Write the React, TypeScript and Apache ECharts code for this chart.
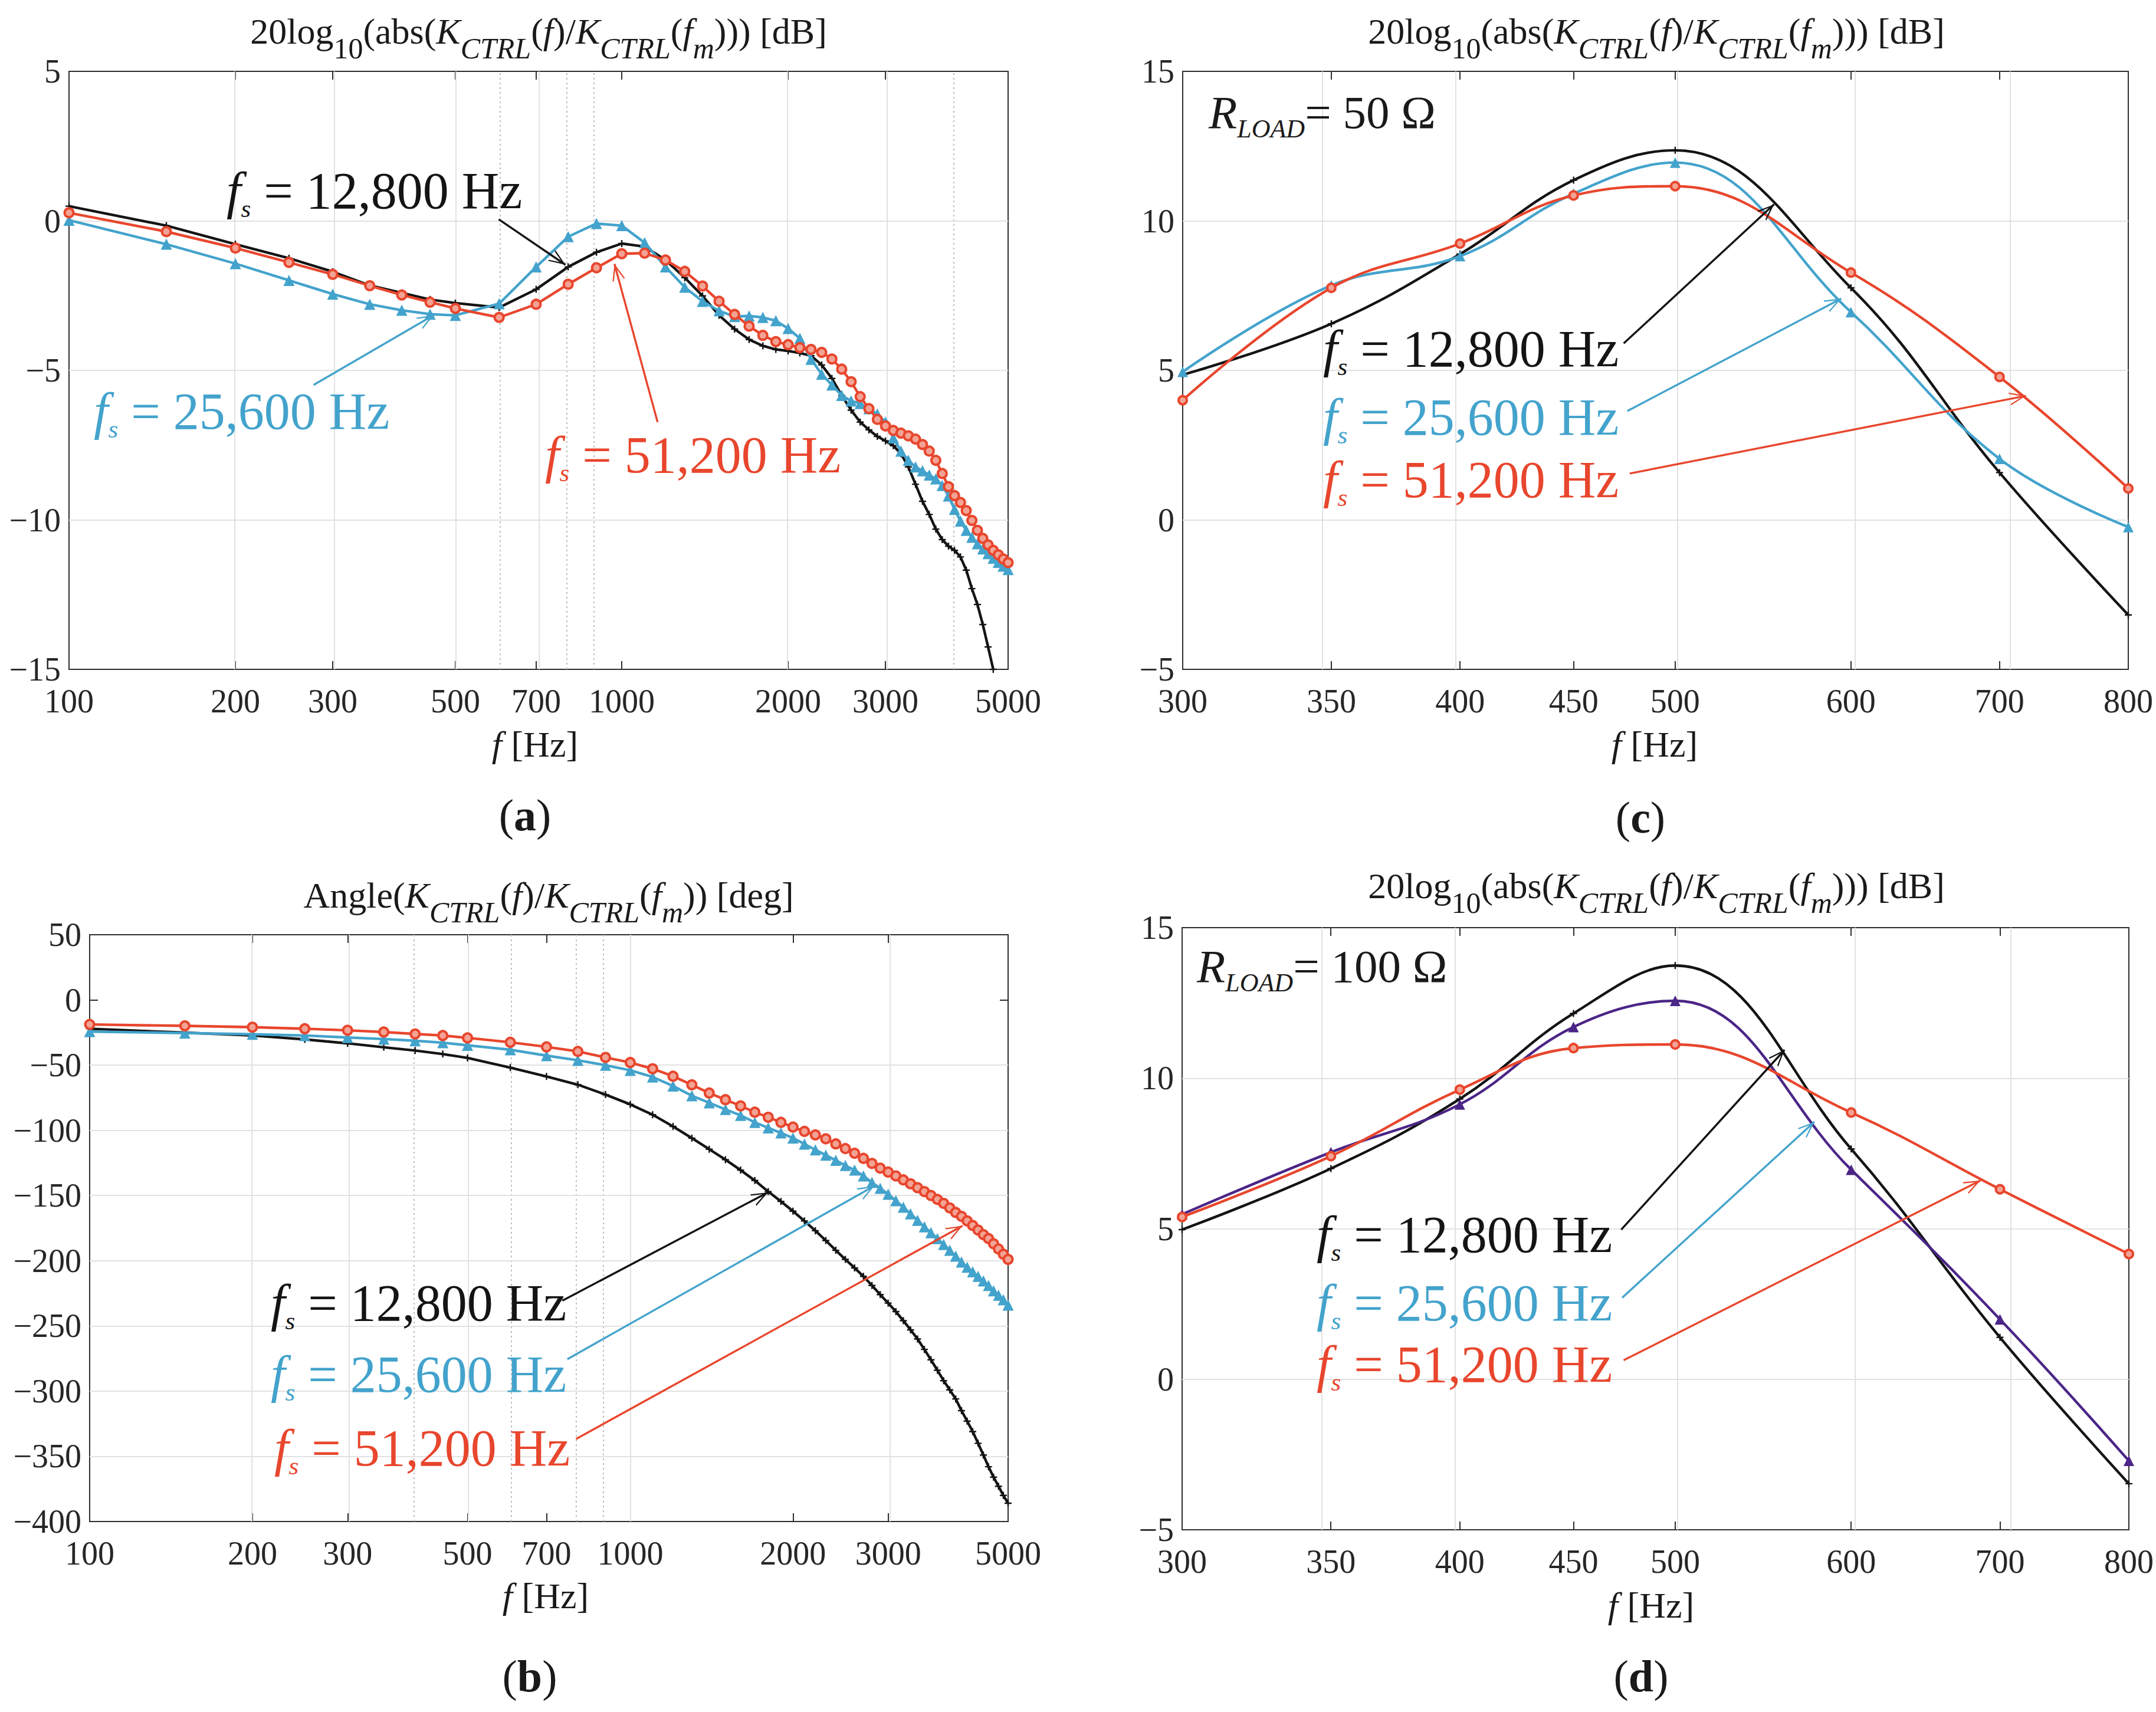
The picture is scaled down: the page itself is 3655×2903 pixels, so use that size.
import React, { useEffect, useRef } from "react";
import * as echarts from "echarts";

const FONT = "Liberation Serif";
const C_BLACK = "#141414";
const C_BLUE = "#43A3CC";
const C_RED = "#E8462D";
const C_RED_FILL = "#F3A394";
const C_PURPLE = "#4B2587";
const C_TEXT = "#1a1a1a";
const C_AXIS = "#2e2e2e";
const C_TICKLBL = "#262626";

// ---------- Panels (a) and (b): frequency points [Hz]
const freqAB = [
  100, 150, 200, 250, 300, 350, 400, 450, 500, 600, 700, 800, 900, 1000, 1100, 1200, 1300, 1400,
  1500, 1600, 1700, 1800, 1900, 2000, 2100, 2200, 2300, 2400, 2500, 2600, 2700, 2800, 2900, 3000,
  3100, 3200, 3300, 3400, 3500, 3600, 3700, 3800, 3900, 4000, 4100, 4200, 4300, 4400, 4500, 4600,
  4700, 4800, 4900, 5000,
];

// (a) magnitude [dB]
const magA_12800 = [
  0.49, -0.16, -0.78, -1.25, -1.7, -2.16, -2.41, -2.63, -2.75, -2.9, -2.29, -1.54, -1.05, -0.76,
  -0.86, -1.31, -1.9, -2.51, -3.16, -3.62, -3.97, -4.18, -4.3, -4.35, -4.42, -4.51, -4.82, -5.27,
  -5.84, -6.33, -6.73, -6.99, -7.21, -7.36, -7.52, -7.79, -8.23, -8.81, -9.38, -9.82, -10.31,
  -10.66, -10.88, -11.02, -11.24, -11.68, -12.3, -12.83, -13.5, -14.25, -15.0,
];
const magA_25600 = [
  0.02, -0.78, -1.43, -1.99, -2.45, -2.79, -2.99, -3.12, -3.16, -2.77, -1.54, -0.53, -0.09, -0.16,
  -0.73, -1.54, -2.22, -2.69, -3.01, -3.2, -3.18, -3.23, -3.34, -3.6, -3.93, -4.63, -5.13, -5.49,
  -5.84, -6.02, -6.11, -6.28, -6.46, -6.73, -7.26, -7.7, -8.01, -8.23, -8.36, -8.5, -8.63, -8.85,
  -9.2, -9.65, -10.04, -10.35, -10.58, -10.8, -10.97, -11.13, -11.28, -11.42, -11.55, -11.66,
];
const magA_51200 = [
  0.27, -0.36, -0.91, -1.39, -1.79, -2.17, -2.48, -2.72, -2.93, -3.23, -2.79, -2.12, -1.57, -1.1,
  -1.08, -1.31, -1.69, -2.18, -2.69, -3.13, -3.52, -3.83, -4.04, -4.14, -4.24, -4.3, -4.4, -4.62,
  -4.96, -5.38, -5.88, -6.28, -6.64, -6.86, -7.01, -7.1, -7.19, -7.3, -7.48, -7.7, -8.01, -8.45,
  -8.89, -9.19, -9.42, -9.69, -10.02, -10.35, -10.62, -10.84, -11.02, -11.17, -11.31, -11.43,
];

// (b) angle [deg]
const angB_12800 = [
  -22.1, -25.1, -27.3, -30.3, -33.3, -36.3, -38.8, -41.5, -44.5, -51.9, -58.7, -65.0, -72.6, -80.1,
  -88.0, -97.0, -106.0, -114.5, -122.5, -130.5, -138.5, -147.0, -154.5, -162.0, -169.5, -177.0,
  -184.5, -192.0, -199.0, -205.5, -212.0, -219.0, -226.0, -232.5, -239.0, -246.0, -253.0, -260.0,
  -268.0, -276.0, -284.0, -292.0, -299.0, -306.0, -315.0, -323.0, -331.0, -340.0, -349.0, -358.0,
  -366.0, -373.0, -380.0, -386.0,
];
const angB_25600 = [
  -24.3, -25.4, -26.3, -27.3, -28.8, -30.0, -31.3, -32.8, -34.8, -38.2, -42.7, -46.3, -50.1, -54.0,
  -59.1, -66.0, -73.5, -78.9, -84.0, -88.5, -93.9, -98.1, -102.0, -105.9, -110.5, -115.0, -119.0,
  -123.0, -127.0, -130.5, -135.0, -140.0, -144.5, -149.0, -154.0, -159.0, -164.0, -169.0, -174.0,
  -178.5, -183.0, -187.5, -192.0, -196.5, -201.0, -205.0, -208.5, -212.0, -215.5, -219.0, -223.0,
  -226.5, -230.0, -234.0,
];
const angB_51200 = [
  -18.8, -19.9, -20.9, -22.1, -23.3, -24.6, -26.1, -27.3, -29.1, -32.5, -36.0, -39.5, -44.1, -48.0,
  -52.8, -58.5, -65.1, -71.4, -76.5, -81.3, -86.1, -90.0, -93.9, -97.5, -100.8, -103.5, -106.5,
  -110.4, -114.0, -117.6, -121.5, -125.4, -129.0, -132.0, -135.0, -138.0, -141.0, -144.0, -147.0,
  -150.0, -153.0, -156.0, -159.5, -163.0, -166.0, -169.5, -173.0, -176.5, -180.0, -183.0, -187.0,
  -191.0, -195.0, -199.0,
];

// ---------- Panels (c) and (d)
const freqCD = [300, 350, 400, 450, 500, 600, 700, 800];
const magC_12800 = [4.85, 6.56, 8.89, 11.36, 12.36, 7.76, 1.58, -3.18];
const magC_25600 = [4.95, 7.84, 8.82, 10.91, 11.95, 6.95, 2.04, -0.24];
const magC_51200 = [4.0, 7.76, 9.24, 10.85, 11.16, 8.27, 4.78, 1.05];
const magD_12800 = [4.97, 7.0, 9.31, 12.15, 13.74, 7.65, 1.39, -3.47];
const magD_25600 = [5.48, 7.54, 9.13, 11.7, 12.57, 6.96, 1.99, -2.71];
const magD_51200 = [5.39, 7.41, 9.62, 11.0, 11.12, 8.86, 6.31, 4.16];

// ---------- Tick labels / grid lines
const ticksAB = [100, 200, 300, 500, 700, 1000, 2000, 3000, 5000];
const ticksCD = [300, 350, 400, 450, 500, 600, 700, 800];
const vSolidA = [200, 300, 500, 700, 2000, 3000];
const vDotA = [600, 800, 900, 4000];
const vSolidB = [200, 300, 500, 1000, 3000];
const vDotB = [400, 600, 800, 900];
const vSolidCD = [350, 400, 500, 600, 700];
const hLinesA = [0, -5, -10];
const hLinesB = [-50, -100, -150, -200, -250, -300, -350];
const hLinesCD = [0, 5, 10];

// ---------- Annotation arrows (data coordinates: [Hz, value])
const arrowsA = [
  { from: [599, 0.05], to: [791, -1.47], color: C_BLACK },
  { from: [277, -5.49], to: [457, -3.15], color: C_BLUE },
  { from: [1161, -6.73], to: [970, -1.44], color: C_RED },
];
const arrowsB = [
  { from: [749, -230.6], to: [1798, -147.6], color: C_BLACK },
  { from: [765, -275.5], to: [2829, -142.6], color: C_BLUE },
  { from: [794, -336.7], to: [4119, -173.2], color: C_RED },
];
const arrowsC = [
  { from: [474, 5.9], to: [554, 10.55], color: C_BLACK },
  { from: [475.8, 3.64], to: [594, 7.4], color: C_BLUE },
  { from: [477, 1.55], to: [719.5, 4.15], color: C_RED },
];
const arrowsD = [
  { from: [472.8, 4.97], to: [560, 10.94], color: C_BLACK },
  { from: [473.3, 2.71], to: [577.6, 8.55], color: C_BLUE },
  { from: [474, 0.63], to: [686, 6.6], color: C_RED },
];

const ARROW =
  "path://M11,-30.2 L11.2,-30 L10.8,-30 Z M11,0 L22,30 L19.6,30 L11,6.5 L2.4,30 L0,30 Z";
const PLUS = "path://M4,0 H6 V4 H10 V6 H6 V10 H4 V6 H0 V4 H4 Z";

const lg = (v: number) => Math.log10(v);
const minus = (v: number) => (v < 0 ? "\u2212" + Math.abs(v) : String(v));

function richSet(F: number, S: number, P: number, color: string) {
  const base: any = { fontFamily: FONT, color, verticalAlign: "top", fontWeight: "normal" };
  return {
    n: { ...base, fontSize: F, lineHeight: F, fontStyle: "normal" },
    i: { ...base, fontSize: F, lineHeight: F, fontStyle: "italic" },
    b: { ...base, fontSize: F, lineHeight: F, fontStyle: "normal", fontWeight: "bold" },
    s: { ...base, fontSize: S, lineHeight: S, padding: [P, 0, 0, 0], fontStyle: "normal" },
    si: { ...base, fontSize: S, lineHeight: S, padding: [P, 0, 0, 0], fontStyle: "italic" },
  };
}

const TITLE_DB =
  "{n|20log}{s|10}{n|(abs(}{i|K}{si|CTRL}{n|(}{i|f}{n|)/}{i|K}{si|CTRL}{n|(}{i|f}{si|m}{n|))) [dB]}";
const TITLE_DEG =
  "{n|Angle(}{i|K}{si|CTRL}{n|(}{i|f}{n|)/}{i|K}{si|CTRL}{n|(}{i|f}{si|m}{n|)) [deg]}";
const fsText = (v: string) => `{i|f}{si|s}{n| = ${v} Hz}`;

function txt(text: string, left: number, top: number, align: string, rich: any) {
  return {
    text,
    left,
    top,
    textAlign: align,
    padding: 0,
    textStyle: { fontFamily: FONT, fontWeight: "normal", rich },
  };
}

function buildOption() {
  const panels = [
    {
      grid: { left: 117, top: 121, width: 1592, height: 1014 },
      xr: [100, 5000], ticks: ticksAB, yr: [-15, 5], yi: 5,
      vS: vSolidA, vD: vDotA, h: hLinesA, smooth: false, arrows: arrowsA,
      lines: [
        { f: freqAB, v: magA_12800, c: C_BLACK, kind: "plus" },
        { f: freqAB, v: magA_25600, c: C_BLUE, kind: "tri" },
        { f: freqAB, v: magA_51200, c: C_RED, kind: "circ" },
      ],
    },
    {
      grid: { left: 152, top: 1585, width: 1557, height: 995 },
      xr: [100, 5000], ticks: ticksAB, yr: [-400, 50], yi: 50,
      vS: vSolidB, vD: vDotB, h: hLinesB, smooth: false, arrows: arrowsB,
      lines: [
        { f: freqAB, v: angB_12800, c: C_BLACK, kind: "plus" },
        { f: freqAB, v: angB_25600, c: C_BLUE, kind: "tri" },
        { f: freqAB, v: angB_51200, c: C_RED, kind: "circ" },
      ],
    },
    {
      grid: { left: 2005, top: 121, width: 1603, height: 1014 },
      xr: [300, 800], ticks: ticksCD, yr: [-5, 15], yi: 5,
      vS: vSolidCD, vD: [], h: hLinesCD, smooth: 0.4, arrows: arrowsC,
      lines: [
        { f: freqCD, v: magC_12800, c: C_BLACK, kind: "plus" },
        { f: freqCD, v: magC_25600, c: C_BLUE, kind: "tri" },
        { f: freqCD, v: magC_51200, c: C_RED, kind: "circ" },
      ],
    },
    {
      grid: { left: 2004, top: 1573, width: 1605, height: 1021 },
      xr: [300, 800], ticks: ticksCD, yr: [-5, 15], yi: 5,
      vS: vSolidCD, vD: [], h: hLinesCD, smooth: 0.4, arrows: arrowsD,
      lines: [
        { f: freqCD, v: magD_12800, c: C_BLACK, kind: "plus" },
        { f: freqCD, v: magD_25600, c: C_PURPLE, kind: "tri" },
        { f: freqCD, v: magD_51200, c: C_RED, kind: "circ" },
      ],
    },
  ];

  const grid: any[] = [];
  const xAxis: any[] = [];
  const yAxis: any[] = [];
  const series: any[] = [];

  panels.forEach((p, i) => {
    grid.push({
      ...p.grid,
      show: true,
      borderColor: C_AXIS,
      borderWidth: 2,
      backgroundColor: "transparent",
    });
    const tickVals = p.ticks.map(lg);
    const tickStyle = { show: true, inside: true, length: 14, lineStyle: { color: C_AXIS, width: 2 } };
    const xBase = {
      type: "value",
      gridIndex: i,
      min: lg(p.xr[0]),
      max: lg(p.xr[1]),
      axisLine: { show: false, onZero: false },
      splitLine: { show: false },
      axisTick: { ...tickStyle, customValues: tickVals },
    };
    xAxis.push({
      ...xBase,
      position: "bottom",
      axisLabel: {
        show: true,
        customValues: tickVals,
        formatter: (v: number) => String(Math.round(Math.pow(10, v))),
        fontFamily: FONT,
        fontSize: 56,
        color: C_TICKLBL,
        margin: 26,
      },
    });
    xAxis.push({ ...xBase, position: "top", axisLabel: { show: false } });
    const yBase = {
      type: "value",
      gridIndex: i,
      min: p.yr[0],
      max: p.yr[1],
      interval: p.yi,
      axisLine: { show: false, onZero: false },
      splitLine: { show: false },
      axisTick: tickStyle,
    };
    yAxis.push({
      ...yBase,
      position: "left",
      axisLabel: { show: true, formatter: minus, fontFamily: FONT, fontSize: 56, color: C_TICKLBL, margin: 14 },
    });
    yAxis.push({ ...yBase, position: "right", axisLabel: { show: false } });

    const xi = 2 * i;
    const yi = 2 * i;
    const solid = { color: "#e2e2e2", width: 2, type: "solid" };
    const dotted = { color: "#bcbcbc", width: 2, type: [3, 5] };
    series.push({
      type: "line",
      xAxisIndex: xi,
      yAxisIndex: yi,
      data: [],
      silent: true,
      markLine: {
        silent: true,
        z: 1,
        symbol: ["none", "none"],
        label: { show: false },
        emphasis: { disabled: true },
        data: [
          ...p.vS.map((v) => ({ xAxis: lg(v), lineStyle: solid })),
          ...p.vD.map((v) => ({ xAxis: lg(v), lineStyle: dotted })),
          ...p.h.map((v) => ({ yAxis: v, lineStyle: solid })),
        ],
      },
    });

    p.lines.forEach((ln, k) => {
      const data = ln.v.map((val, j) => [lg(ln.f[j]), val]);
      const sym =
        ln.kind === "plus"
          ? { symbol: PLUS, symbolSize: 12, itemStyle: { color: ln.c } }
          : ln.kind === "tri"
          ? { symbol: "triangle", symbolSize: i < 2 ? 19 : 18, itemStyle: { color: ln.c } }
          : {
              symbol: "circle",
              symbolSize: i < 2 ? 15 : 14,
              itemStyle: { color: C_RED_FILL, borderColor: ln.c, borderWidth: 4 },
            };
      const ar = p.arrows[k];
      series.push({
        type: "line",
        xAxisIndex: xi,
        yAxisIndex: yi,
        data,
        smooth: p.smooth,
        showSymbol: true,
        showAllSymbol: true,
        lineStyle: { color: ln.c, width: 4.4 },
        ...sym,
        z: 3 + k,
        markLine: {
          silent: true,
          z: 8,
          symbol: ["none", ARROW],
          symbolSize: [22, 56],
          label: { show: false },
          emphasis: { disabled: true },
          lineStyle: { color: ar.color, width: 3.4, type: "solid" },
          itemStyle: { color: ar.color },
          data: [
            [
              { coord: [lg(ar.from[0]), ar.from[1]] },
              { coord: [lg(ar.to[0]), ar.to[1]] },
            ],
          ],
        },
      });
    });
  });

  const rT = richSet(62, 50, 35, C_TEXT);
  const annK = richSet(88, 43, 53, C_BLACK);
  const annB = richSet(88, 43, 53, C_BLUE);
  const annR = richSet(88, 43, 53, C_RED);
  const rL = richSet(79, 44, 45, C_TEXT);
  const rAx = richSet(62, 40, 0, C_TEXT);
  const rP = richSet(76, 40, 0, C_TEXT);

  const title = [
    txt(TITLE_DB, 913, 22, "center", rT),
    txt(TITLE_DEG, 930, 1487, "center", rT),
    txt(TITLE_DB, 2808, 22, "center", rT),
    txt(TITLE_DB, 2808, 1471, "center", rT),
    txt("{i|f}{n| [Hz]}", 907, 1231, "center", rAx),
    txt("{i|f}{n| [Hz]}", 925, 2675, "center", rAx),
    txt("{i|f}{n| [Hz]}", 2805, 1231, "center", rAx),
    txt("{i|f}{n| [Hz]}", 2799, 2691, "center", rAx),
    txt("{n|(}{b|a}{n|)}", 890, 1344, "center", rP),
    txt("{n|(}{b|b}{n|)}", 898, 2804, "center", rP),
    txt("{n|(}{b|c}{n|)}", 2781, 1348, "center", rP),
    txt("{n|(}{b|d}{n|)}", 2782, 2804, "center", rP),
    txt("{i|R}{si|LOAD}{n|= 50 \u03A9}", 2049, 151, "left", rL),
    txt("{i|R}{si|LOAD}{n|= 100 \u03A9}", 2029, 1599, "left", rL),
    txt(fsText("12,800"), 384, 279, "left", annK),
    txt(fsText("25,600"), 159, 653, "left", annB),
    txt(fsText("51,200"), 924, 727, "left", annR),
    txt(fsText("12,800"), 459, 2165, "left", annK),
    txt(fsText("25,600"), 459, 2286, "left", annB),
    txt(fsText("51,200"), 465, 2411, "left", annR),
    txt(fsText("12,800"), 2243, 547, "left", annK),
    txt(fsText("25,600"), 2243, 663, "left", annB),
    txt(fsText("51,200"), 2243, 769, "left", annR),
    txt(fsText("12,800"), 2232, 2049, "left", annK),
    txt(fsText("25,600"), 2232, 2165, "left", annB),
    txt(fsText("51,200"), 2232, 2269, "left", annR),
  ];

  return {
    animation: false,
    backgroundColor: "#ffffff",
    title,
    grid,
    xAxis,
    yAxis,
    series,
  };
}

export default function App() {
  const ref = useRef<HTMLDivElement>(null);
  useEffect(() => {
    document.body.style.margin = "0";
    const chart = echarts.init(ref.current as HTMLDivElement, null, {
      renderer: "svg",
      width: 3655,
      height: 2903,
    });
    chart.setOption(buildOption() as any);
    return () => chart.dispose();
  }, []);
  return (
    <div
      ref={ref}
      style={{ position: "absolute", left: 0, top: 0, width: 3655, height: 2903, background: "#fff" }}
    />
  );
}
